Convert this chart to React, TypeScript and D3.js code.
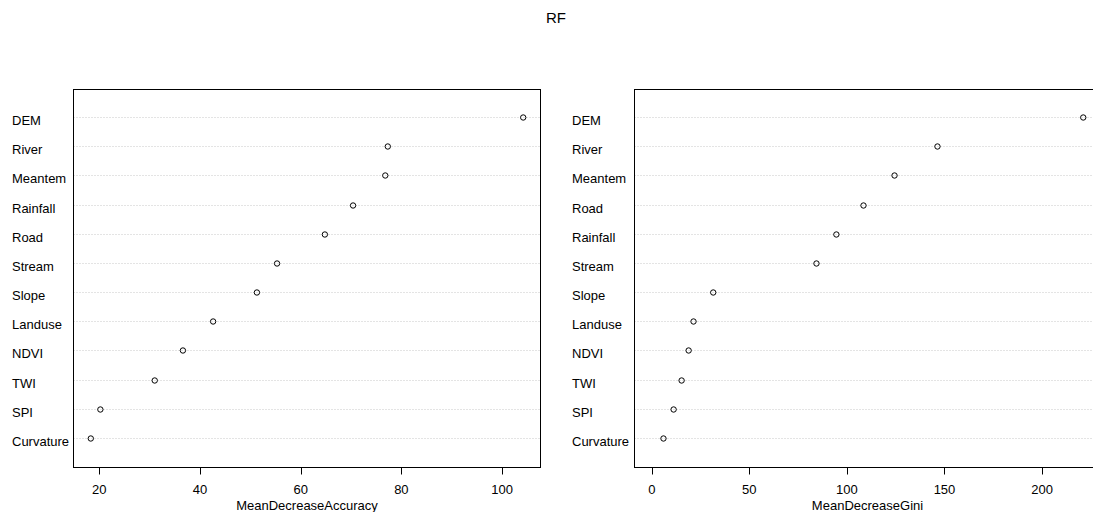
import React from "react";
import * as d3 from "d3";

const variables = ["DEM", "River", "Meantem", "Rainfall", "Road", "Stream", "Slope", "Landuse", "NDVI", "TWI", "SPI", "Curvature"];
const accuracyValues = [104.2, 77.3, 76.8, 70.4, 64.8, 55.3, 51.3, 42.6, 36.6, 31.0, 20.2, 18.3];

const giniVariables = ["DEM", "River", "Meantem", "Road", "Rainfall", "Stream", "Slope", "Landuse", "NDVI", "TWI", "SPI", "Curvature"];
const giniValues = [221.1, 146.4, 124.4, 108.5, 94.6, 84.4, 31.5, 21.4, 18.9, 15.3, 11.2, 6.0];

const accuracyTicks = [20, 40, 60, 80, 100];
const giniTicks = [0, 50, 100, 150, 200];

const FONT = "'Liberation Sans', Arial, Helvetica, sans-serif";

type PanelProps = {
  labels: string[];
  values: number[];
  ticks: number[];
  xmin: number | null;
  left: number;
  right: number;
  labelX: number;
  title: string;
};

function Panel({ labels, values, ticks, xmin, left, right, labelX, title }: PanelProps) {
  const lo = xmin === null ? (d3.min(values) as number) : xmin;
  const hi = d3.max(values) as number;
  const r = hi - lo;
  const x = d3.scaleLinear().domain([lo - 0.04 * r, hi + 0.04 * r]).range([left, right]);
  const top = 89.5;
  const bottom = 467.5;
  const y = d3.scaleLinear().domain([0, labels.length + 1]).range([bottom + 0.5, top - 0.5]);
  const n = labels.length;
  return (
    <g>
      {labels.map((lab, i) => {
        const yy = Math.round(y(n - i)) - 0.5;
        return (
          <g key={lab}>
            <line x1={left} x2={right} y1={yy} y2={yy} stroke="#c8c8c8" strokeWidth={1} strokeDasharray="1 2" />
            <circle cx={x(values[i])} cy={yy} r={2.7} fill="none" stroke="#000" strokeWidth={1} />
            <text x={labelX} y={yy + 7} fontSize={13} fontFamily={FONT} fill="#000">{lab}</text>
          </g>
        );
      })}
      <rect x={left} y={top} width={right - left} height={bottom - top} fill="none" stroke="#000" strokeWidth={1} />
      <line x1={x(ticks[0])} x2={x(ticks[ticks.length - 1])} y1={bottom} y2={bottom} stroke="#000" strokeWidth={1} />
      {ticks.map((t) => (
        <g key={t}>
          <line x1={Math.round(x(t)) + 0.5} x2={Math.round(x(t)) + 0.5} y1={bottom} y2={bottom + 7} stroke="#000" strokeWidth={1} />
          <text x={x(t)} y={494} textAnchor="middle" fontSize={13} fontFamily={FONT} fill="#000">{t}</text>
        </g>
      ))}
      <text x={(left + right) / 2} y={510} textAnchor="middle" fontSize={13} fontFamily={FONT} fill="#000">{title}</text>
    </g>
  );
}

export default function App() {
  return (
    <svg width={1093} height={512} style={{ position: "absolute", left: 0, top: 0, background: "#fff" }}>
      <rect x={0} y={0} width={1093} height={512} fill="#fff" />
      <text x={556} y={23} textAnchor="middle" fontSize={15} fontFamily={FONT} fill="#000">RF</text>
      <Panel labels={variables} values={accuracyValues} ticks={accuracyTicks} xmin={null} left={73.5} right={540.5} labelX={12} title="MeanDecreaseAccuracy" />
      <Panel labels={giniVariables} values={giniValues} ticks={giniTicks} xmin={0} left={634.5} right={1100.5} labelX={572} title="MeanDecreaseGini" />
    </svg>
  );
}
